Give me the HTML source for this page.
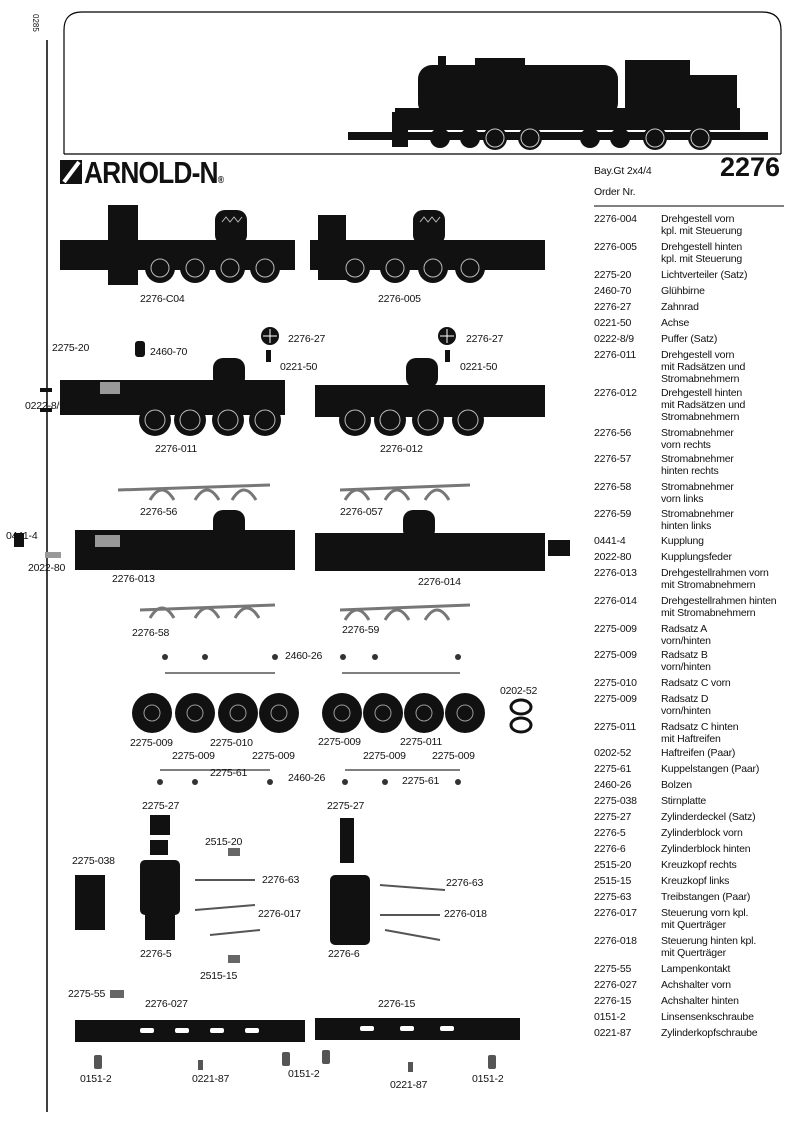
<!DOCTYPE html>
<html><head><meta charset="utf-8">
<style>
body{margin:0;background:#fff;width:800px;height:1143px;overflow:hidden;position:relative;font-family:"Liberation Sans",sans-serif;color:#111}
.t{position:absolute;font-size:10.5px;white-space:nowrap;line-height:12px;letter-spacing:-0.2px}
.c{left:594px}.d{left:661px}
.l{position:absolute;font-size:10.5px;white-space:nowrap;letter-spacing:-0.2px}
</style></head><body>
<svg width="800" height="1143" style="position:absolute;left:0;top:0">
<line x1="47" y1="40" x2="47" y2="1112" stroke="#000" stroke-width="1.5"/>
<path d="M64 154 L64 30 Q64 12 82 12 L762 12 Q781 12 781 30 L781 154" fill="none" stroke="#000" stroke-width="1.2"/>
<line x1="64" y1="154" x2="781" y2="154" stroke="#000" stroke-width="1.2"/>
<!-- locomotive -->
<g fill="#111">
<rect x="418" y="65" width="200" height="52" rx="14"/>
<rect x="475" y="58" width="50" height="10"/>
<rect x="438" y="56" width="8" height="12"/>
<rect x="625" y="60" width="65" height="60"/>
<rect x="685" y="75" width="52" height="45"/>
<rect x="480" y="92" width="100" height="30"/>
<rect x="395" y="108" width="345" height="22"/>
<rect x="392" y="112" width="16" height="35"/>
<rect x="348" y="132" width="420" height="8"/>
<circle cx="495" cy="138" r="12"/><circle cx="530" cy="138" r="12"/><circle cx="655" cy="138" r="12"/><circle cx="700" cy="138" r="12"/>
<circle cx="440" cy="138" r="10"/><circle cx="470" cy="138" r="10"/><circle cx="620" cy="138" r="10"/><circle cx="590" cy="138" r="10"/>
</g>
<g fill="none" stroke="#ccc" stroke-width="1"><circle cx="495" cy="138" r="9"/><circle cx="530" cy="138" r="9"/><circle cx="655" cy="138" r="9"/><circle cx="700" cy="138" r="9"/></g>
<!-- logo -->
<rect x="60" y="160" width="22" height="24" fill="#111"/>
<line x1="64" y1="182" x2="79" y2="162" stroke="#fff" stroke-width="4"/>
<line x1="594" y1="206" x2="784" y2="206" stroke="#000" stroke-width="1"/>
<!-- bogies top -->
<g fill="#111">
<rect x="60" y="240" width="235" height="30"/>
<rect x="108" y="205" width="30" height="80"/>
<rect x="215" y="210" width="32" height="35" rx="10"/>
<rect x="310" y="240" width="235" height="30"/>
<rect x="318" y="215" width="28" height="65"/>
<rect x="413" y="210" width="32" height="35" rx="10"/>
<circle cx="160" cy="268" r="15"/><circle cx="195" cy="268" r="15"/><circle cx="230" cy="268" r="15"/><circle cx="265" cy="268" r="15"/>
<circle cx="355" cy="268" r="15"/><circle cx="395" cy="268" r="15"/><circle cx="433" cy="268" r="15"/><circle cx="470" cy="268" r="15"/>
</g>
<g fill="none" stroke="#bbb"><circle cx="160" cy="268" r="9"/><circle cx="195" cy="268" r="9"/><circle cx="230" cy="268" r="9"/><circle cx="265" cy="268" r="9"/>
<circle cx="355" cy="268" r="9"/><circle cx="395" cy="268" r="9"/><circle cx="433" cy="268" r="9"/><circle cx="470" cy="268" r="9"/>
<path d="M222 222 l4 -5 l4 5 l4 -5 l4 5 l4 -5" /><path d="M420 222 l4 -5 l4 5 l4 -5 l4 5 l4 -5" /></g>
<!-- second row bogies -->
<g fill="#111">
<rect x="60" y="380" width="225" height="35"/>
<rect x="213" y="358" width="32" height="30" rx="10"/>
<rect x="315" y="385" width="230" height="32"/>
<rect x="406" y="358" width="32" height="30" rx="10"/>
<circle cx="155" cy="420" r="16"/><circle cx="190" cy="420" r="16"/><circle cx="228" cy="420" r="16"/><circle cx="265" cy="420" r="16"/>
<circle cx="355" cy="420" r="16"/><circle cx="390" cy="420" r="16"/><circle cx="428" cy="420" r="16"/><circle cx="468" cy="420" r="16"/>
<circle cx="270" cy="336" r="9"/><circle cx="447" cy="336" r="9"/>
<rect x="40" y="388" width="12" height="4"/><rect x="40" y="408" width="12" height="4"/>
<rect x="135" y="341" width="10" height="16" rx="3"/>
<rect x="266" y="350" width="5" height="12"/><rect x="445" y="350" width="5" height="12"/>
</g>
<g fill="none" stroke="#fff" stroke-width="1"><path d="M263 336 h14 M270 329 v14"/><path d="M440 336 h14 M447 329 v14"/></g>
<g fill="none" stroke="#bbb"><circle cx="155" cy="420" r="10"/><circle cx="190" cy="420" r="10"/><circle cx="228" cy="420" r="10"/><circle cx="265" cy="420" r="10"/>
<circle cx="355" cy="420" r="10"/><circle cx="390" cy="420" r="10"/><circle cx="428" cy="420" r="10"/><circle cx="468" cy="420" r="10"/></g>
<g fill="#999"><rect x="100" y="382" width="20" height="12"/></g>
<!-- current collectors -->
<g fill="none" stroke="#777" stroke-width="3">
<path d="M118 490 L270 485"/><path d="M340 490 L470 485"/>
<path d="M140 610 L275 605"/><path d="M340 610 L470 605"/>
<path d="M150 500 q12 -20 24 0 M195 500 q12 -20 24 0 M232 500 q12 -20 24 0"/>
<path d="M345 500 q12 -20 24 0 M385 500 q12 -20 24 0 M425 500 q12 -20 24 0"/>
<path d="M150 618 q12 -20 24 0 M195 618 q12 -20 24 0 M235 618 q12 -20 24 0"/>
<path d="M345 620 q12 -20 24 0 M385 620 q12 -20 24 0 M425 620 q12 -20 24 0"/>
</g>
<!-- frames -->
<g fill="#111">
<rect x="75" y="530" width="220" height="40"/>
<rect x="213" y="510" width="32" height="30" rx="10"/>
<rect x="315" y="533" width="230" height="38"/>
<rect x="403" y="510" width="32" height="30" rx="10"/>
<rect x="14" y="533" width="10" height="14"/>
<rect x="548" y="540" width="22" height="16"/>
</g>
<g fill="#999"><rect x="45" y="552" width="16" height="6"/><rect x="95" y="535" width="25" height="12"/></g>
<!-- wheelsets -->
<g fill="#111">
<circle cx="152" cy="713" r="20"/><circle cx="195" cy="713" r="20"/><circle cx="238" cy="713" r="20"/><circle cx="279" cy="713" r="20"/>
<circle cx="342" cy="713" r="20"/><circle cx="383" cy="713" r="20"/><circle cx="424" cy="713" r="20"/><circle cx="465" cy="713" r="20"/>
</g>
<g fill="none" stroke="#999"><circle cx="152" cy="713" r="8"/><circle cx="195" cy="713" r="8"/><circle cx="238" cy="713" r="8"/><circle cx="279" cy="713" r="8"/>
<circle cx="342" cy="713" r="8"/><circle cx="383" cy="713" r="8"/><circle cx="424" cy="713" r="8"/><circle cx="465" cy="713" r="8"/></g>
<g fill="none" stroke="#111" stroke-width="3"><ellipse cx="521" cy="707" rx="10" ry="7"/><ellipse cx="521" cy="725" rx="10" ry="7"/></g>
<g stroke="#555" stroke-width="1.5" fill="none"><path d="M165 673 L275 673"/><path d="M342 673 L460 673"/><path d="M160 770 L270 770"/><path d="M345 770 L460 770"/></g>
<g fill="#333"><circle cx="165" cy="657" r="3"/><circle cx="205" cy="657" r="3"/><circle cx="275" cy="657" r="3"/><circle cx="343" cy="657" r="3"/><circle cx="375" cy="657" r="3"/><circle cx="458" cy="657" r="3"/>
<circle cx="160" cy="782" r="3"/><circle cx="195" cy="782" r="3"/><circle cx="270" cy="782" r="3"/><circle cx="345" cy="782" r="3"/><circle cx="385" cy="782" r="3"/><circle cx="458" cy="782" r="3"/></g>
<!-- cylinders -->
<g fill="#111">
<rect x="150" y="815" width="20" height="20"/><rect x="150" y="840" width="18" height="15"/>
<rect x="140" y="860" width="40" height="55" rx="5"/><rect x="145" y="915" width="30" height="25"/>
<rect x="340" y="818" width="14" height="45"/><rect x="330" y="875" width="40" height="70" rx="5"/>
<rect x="75" y="875" width="30" height="55"/>
</g>
<g stroke="#555" stroke-width="2"><path d="M195 880 L255 880"/><path d="M195 910 L255 905"/><path d="M210 935 L260 930"/><path d="M380 885 L445 890"/><path d="M380 915 L440 915"/><path d="M385 930 L440 940"/></g>
<g fill="#666"><rect x="228" y="848" width="12" height="8"/><rect x="228" y="955" width="12" height="8"/><rect x="110" y="990" width="14" height="8"/></g>
<!-- bottom bars -->
<g fill="#111">
<rect x="75" y="1020" width="230" height="22"/>
<rect x="315" y="1018" width="205" height="22"/>
</g>
<g fill="#fff"><rect x="140" y="1028" width="14" height="5" rx="2"/><rect x="175" y="1028" width="14" height="5" rx="2"/><rect x="210" y="1028" width="14" height="5" rx="2"/><rect x="245" y="1028" width="14" height="5" rx="2"/>
<rect x="360" y="1026" width="14" height="5" rx="2"/><rect x="400" y="1026" width="14" height="5" rx="2"/><rect x="440" y="1026" width="14" height="5" rx="2"/></g>
<g fill="#555"><rect x="94" y="1055" width="8" height="14" rx="2"/><rect x="198" y="1060" width="5" height="10"/><rect x="282" y="1052" width="8" height="14" rx="2"/><rect x="322" y="1050" width="8" height="14" rx="2"/><rect x="408" y="1062" width="5" height="10"/><rect x="488" y="1055" width="8" height="14" rx="2"/></g>
</svg>
<div style="position:absolute;top:14px;font-size:8px;transform:rotate(90deg);transform-origin:left top;left:40px">0285</div>
<div style="position:absolute;left:84px;top:155px;font-size:31px;font-weight:bold;letter-spacing:-1px;transform:scaleX(0.85);transform-origin:left">ARNOLD-N<span style="font-size:10px">®</span></div>
<div class="l" style="left:594px;top:165px">Bay.Gt 2x4/4</div>
<div style="position:absolute;left:720px;top:152px;font-size:27px;font-weight:bold">2276</div>
<div class="l" style="left:594px;top:186px">Order Nr.</div>

<div class="t c" style="top:213px">2276-004</div><div class="t d" style="top:213px">Drehgestell vorn<br>kpl. mit Steuerung</div>
<div class="t c" style="top:241px">2276-005</div><div class="t d" style="top:241px">Drehgestell hinten<br>kpl. mit Steuerung</div>
<div class="t c" style="top:269px">2275-20</div><div class="t d" style="top:269px">Lichtverteiler (Satz)</div>
<div class="t c" style="top:285px">2460-70</div><div class="t d" style="top:285px">Glühbirne</div>
<div class="t c" style="top:301px">2276-27</div><div class="t d" style="top:301px">Zahnrad</div>
<div class="t c" style="top:317px">0221-50</div><div class="t d" style="top:317px">Achse</div>
<div class="t c" style="top:333px">0222-8/9</div><div class="t d" style="top:333px">Puffer (Satz)</div>
<div class="t c" style="top:349px">2276-011</div><div class="t d" style="top:349px">Drehgestell vorn<br>mit Radsätzen und<br>Stromabnehmern</div>
<div class="t c" style="top:387px">2276-012</div><div class="t d" style="top:387px">Drehgestell hinten<br>mit Radsätzen und<br>Stromabnehmern</div>
<div class="t c" style="top:427px">2276-56</div><div class="t d" style="top:427px">Stromabnehmer<br>vorn rechts</div>
<div class="t c" style="top:453px">2276-57</div><div class="t d" style="top:453px">Stromabnehmer<br>hinten rechts</div>
<div class="t c" style="top:481px">2276-58</div><div class="t d" style="top:481px">Stromabnehmer<br>vorn links</div>
<div class="t c" style="top:508px">2276-59</div><div class="t d" style="top:508px">Stromabnehmer<br>hinten links</div>
<div class="t c" style="top:535px">0441-4</div><div class="t d" style="top:535px">Kupplung</div>
<div class="t c" style="top:551px">2022-80</div><div class="t d" style="top:551px">Kupplungsfeder</div>
<div class="t c" style="top:567px">2276-013</div><div class="t d" style="top:567px">Drehgestellrahmen vorn<br>mit Stromabnehmern</div>
<div class="t c" style="top:595px">2276-014</div><div class="t d" style="top:595px">Drehgestellrahmen hinten<br>mit Stromabnehmern</div>
<div class="t c" style="top:623px">2275-009</div><div class="t d" style="top:623px">Radsatz A<br>vorn/hinten</div>
<div class="t c" style="top:649px">2275-009</div><div class="t d" style="top:649px">Radsatz B<br>vorn/hinten</div>
<div class="t c" style="top:677px">2275-010</div><div class="t d" style="top:677px">Radsatz C vorn</div>
<div class="t c" style="top:693px">2275-009</div><div class="t d" style="top:693px">Radsatz D<br>vorn/hinten</div>
<div class="t c" style="top:721px">2275-011</div><div class="t d" style="top:721px">Radsatz C hinten<br>mit Haftreifen</div>
<div class="t c" style="top:747px">0202-52</div><div class="t d" style="top:747px">Haftreifen (Paar)</div>
<div class="t c" style="top:763px">2275-61</div><div class="t d" style="top:763px">Kuppelstangen (Paar)</div>
<div class="t c" style="top:779px">2460-26</div><div class="t d" style="top:779px">Bolzen</div>
<div class="t c" style="top:795px">2275-038</div><div class="t d" style="top:795px">Stirnplatte</div>
<div class="t c" style="top:811px">2275-27</div><div class="t d" style="top:811px">Zylinderdeckel (Satz)</div>
<div class="t c" style="top:827px">2276-5</div><div class="t d" style="top:827px">Zylinderblock vorn</div>
<div class="t c" style="top:843px">2276-6</div><div class="t d" style="top:843px">Zylinderblock hinten</div>
<div class="t c" style="top:859px">2515-20</div><div class="t d" style="top:859px">Kreuzkopf rechts</div>
<div class="t c" style="top:875px">2515-15</div><div class="t d" style="top:875px">Kreuzkopf links</div>
<div class="t c" style="top:891px">2275-63</div><div class="t d" style="top:891px">Treibstangen (Paar)</div>
<div class="t c" style="top:907px">2276-017</div><div class="t d" style="top:907px">Steuerung vorn kpl.<br>mit Querträger</div>
<div class="t c" style="top:935px">2276-018</div><div class="t d" style="top:935px">Steuerung hinten kpl.<br>mit Querträger</div>
<div class="t c" style="top:963px">2275-55</div><div class="t d" style="top:963px">Lampenkontakt</div>
<div class="t c" style="top:979px">2276-027</div><div class="t d" style="top:979px">Achshalter vorn</div>
<div class="t c" style="top:995px">2276-15</div><div class="t d" style="top:995px">Achshalter hinten</div>
<div class="t c" style="top:1011px">0151-2</div><div class="t d" style="top:1011px">Linsensenkschraube</div>
<div class="t c" style="top:1027px">0221-87</div><div class="t d" style="top:1027px">Zylinderkopfschraube</div>

<div class="l" style="left:140px;top:293px">2276-C04</div>
<div class="l" style="left:378px;top:293px">2276-005</div>
<div class="l" style="left:52px;top:342px">2275-20</div>
<div class="l" style="left:150px;top:346px">2460-70</div>
<div class="l" style="left:288px;top:333px">2276-27</div>
<div class="l" style="left:466px;top:333px">2276-27</div>
<div class="l" style="left:280px;top:361px">0221-50</div>
<div class="l" style="left:460px;top:361px">0221-50</div>
<div class="l" style="left:25px;top:400px">0222-8/9</div>
<div class="l" style="left:155px;top:443px">2276-011</div>
<div class="l" style="left:380px;top:443px">2276-012</div>
<div class="l" style="left:140px;top:506px">2276-56</div>
<div class="l" style="left:340px;top:506px">2276-057</div>
<div class="l" style="left:6px;top:530px">0441-4</div>
<div class="l" style="left:28px;top:562px">2022-80</div>
<div class="l" style="left:112px;top:573px">2276-013</div>
<div class="l" style="left:418px;top:576px">2276-014</div>
<div class="l" style="left:132px;top:627px">2276-58</div>
<div class="l" style="left:342px;top:624px">2276-59</div>
<div class="l" style="left:285px;top:650px">2460-26</div>
<div class="l" style="left:500px;top:685px">0202-52</div>
<div class="l" style="left:130px;top:737px">2275-009</div>
<div class="l" style="left:210px;top:737px">2275-010</div>
<div class="l" style="left:318px;top:736px">2275-009</div>
<div class="l" style="left:400px;top:736px">2275-011</div>
<div class="l" style="left:172px;top:750px">2275-009</div>
<div class="l" style="left:252px;top:750px">2275-009</div>
<div class="l" style="left:363px;top:750px">2275-009</div>
<div class="l" style="left:432px;top:750px">2275-009</div>
<div class="l" style="left:210px;top:767px">2275-61</div>
<div class="l" style="left:288px;top:772px">2460-26</div>
<div class="l" style="left:402px;top:775px">2275-61</div>
<div class="l" style="left:142px;top:800px">2275-27</div>
<div class="l" style="left:327px;top:800px">2275-27</div>
<div class="l" style="left:205px;top:836px">2515-20</div>
<div class="l" style="left:72px;top:855px">2275-038</div>
<div class="l" style="left:262px;top:874px">2276-63</div>
<div class="l" style="left:446px;top:877px">2276-63</div>
<div class="l" style="left:258px;top:908px">2276-017</div>
<div class="l" style="left:444px;top:908px">2276-018</div>
<div class="l" style="left:140px;top:948px">2276-5</div>
<div class="l" style="left:328px;top:948px">2276-6</div>
<div class="l" style="left:200px;top:970px">2515-15</div>
<div class="l" style="left:68px;top:988px">2275-55</div>
<div class="l" style="left:145px;top:998px">2276-027</div>
<div class="l" style="left:378px;top:998px">2276-15</div>
<div class="l" style="left:80px;top:1073px">0151-2</div>
<div class="l" style="left:192px;top:1073px">0221-87</div>
<div class="l" style="left:288px;top:1068px">0151-2</div>
<div class="l" style="left:390px;top:1079px">0221-87</div>
<div class="l" style="left:472px;top:1073px">0151-2</div>
</body></html>
